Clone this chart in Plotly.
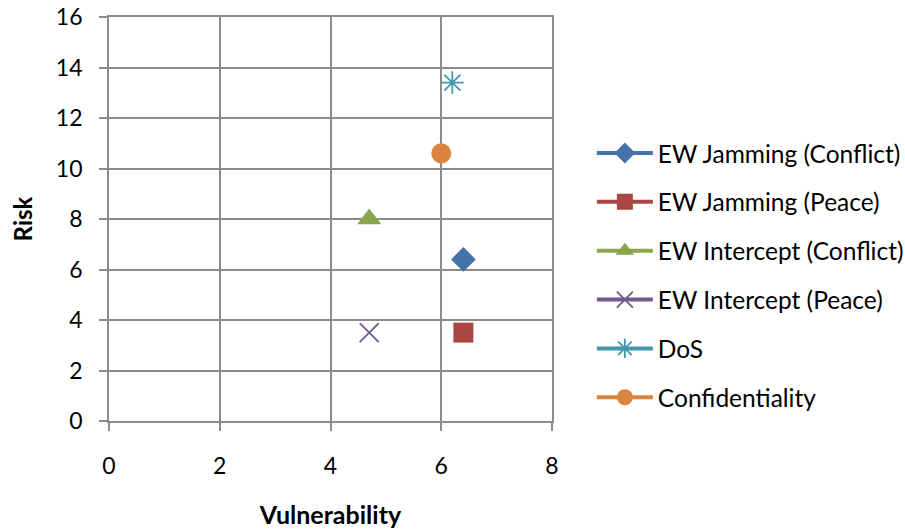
import plotly.graph_objects as go

series_names = ["EW Jamming (Conflict)", "EW Jamming (Peace)", "EW Intercept (Conflict)",
                "EW Intercept (Peace)", "DoS", "Confidentiality"]
vulnerability = [6.4, 6.4, 4.7, 4.7, 6.2, 6.0]
risk = [6.4, 3.5, 8.0, 3.5, 13.4, 10.6]
colors = ["#4572A7", "#AA4643", "#89A54E", "#71588F", "#4198AF", "#DB843D"]
symbols = ["diamond", "square", "triangle-up", "x-thin-open", "asterisk-open", "circle"]
sizes = [19, 20, 21, 19, 19, 20]

x_ticks = [0, 2, 4, 6, 8]
y_ticks = [0, 2, 4, 6, 8, 10, 12, 14, 16]

FONT = "Lato, 'Open Sans', sans-serif"

fig = go.Figure()
for i, name in enumerate(series_names):
    thin = symbols[i] in ("x-thin-open", "asterisk-open")
    fig.add_trace(go.Scatter(
        x=[vulnerability[i]], y=[risk[i]], name=name, mode="lines+markers",
        legendgroup=name,
        line=dict(color=colors[i], width=4),
        marker=dict(symbol=symbols[i], size=sizes[i], color=colors[i],
                    line=dict(color=colors[i], width=1.8 if thin else 0)),
    ))

axis_common = dict(showgrid=True, gridcolor="#8C8C8C", gridwidth=1.7,
                   showline=True, linecolor="#8C8C8C", linewidth=1.7,
                   ticks="outside", ticklen=8, tickcolor="#8C8C8C", tickwidth=1.7,
                   zeroline=False, ticklabeloverflow="allow", automargin=False,
                   tickfont=dict(family=FONT, size=23, color="#000"))

fig.update_layout(
    width=905, height=531,
    margin=dict(l=109, r=353, t=17, b=110),
    paper_bgcolor="white", plot_bgcolor="white",
    font=dict(family=FONT, color="#000"),
    xaxis=dict(range=[0, 8], tickvals=x_ticks, mirror=True, ticklabelstandoff=16,
               title=dict(text="<b>Vulnerability</b>", font=dict(family=FONT, size=25), standoff=28),
               **axis_common),
    yaxis=dict(range=[0, 16], tickvals=y_ticks, mirror=True, ticklabelstandoff=12,
               title=dict(text="<b>Risk</b>", font=dict(family=FONT, size=24), standoff=16),
               **axis_common),
    legend=dict(xref="container", x=0.654, xanchor="left", y=0.36, yanchor="middle",
                font=dict(family=FONT, size=24.5, color="#000"),
                tracegroupgap=14, itemwidth=56, bgcolor="rgba(0,0,0,0)"),
    showlegend=True,
)

fig.write_html("out.html", config={"displayModeBar": False},
               post_script="document.body.style.margin='0';")
